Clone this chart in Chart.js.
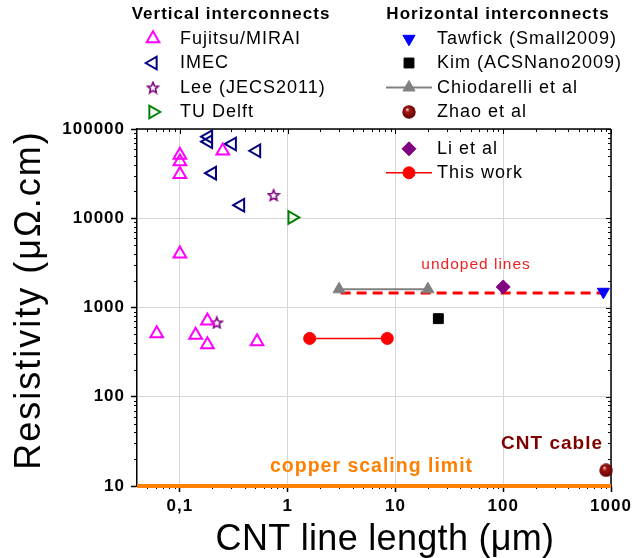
<!DOCTYPE html>
<html><head><meta charset="utf-8">
<script src="https://cdn.jsdelivr.net/npm/chart.js@4.4.1/dist/chart.umd.min.js"></script>
<style>html,body{margin:0;padding:0;background:#fff;overflow:hidden}#wrap{width:641px;height:558px}</style>
</head><body><div id="wrap"><canvas id="c" width="641" height="558"></canvas></div>
<script>
// ---------- data ----------
const xTickValues = [0.1, 1, 10, 100, 1000];
const xTickLabels = ['0,1', '1', '10', '100', '1000'];
const yTickValues = [10, 100, 1000, 10000, 100000];
const yTickLabels = ['10', '100', '1000', '10000', '100000'];

const fujitsuX = [0.1, 0.1, 0.1, 0.25, 0.1, 0.061, 0.14, 0.18, 0.18, 0.52];
const fujitsuY = [51000, 43000, 31000, 57000, 4000, 510, 490, 710, 385, 415];
const imecX = [0.184, 0.184, 0.306, 0.514, 0.2, 0.365];
const imecY = [82000, 72000, 68000, 57000, 32000, 14000];
const leeX = [0.74, 0.22];
const leeY = [18200, 680];
const tuDelftX = [1.1];
const tuDelftY = [10200];
const tawfickX = [850];
const tawfickY = [1500];
const kimX = [25];
const kimY = [750];
const chiodarelliX = [3, 20];
const chiodarelliY = [1600, 1600];
const zhaoX = [900];
const zhaoY = [15];
const liX = [100];
const liY = [1700];
const thisWorkX = [1.6, 8.4];
const thisWorkY = [450, 450];
const undopedX = [3.1, 850];
const undopedY = [1450, 1450];
const copperX = [0.04, 1000];
const copperY = [10, 10];

// annotation anchors (data coordinates)
const undopedLabel = {text: 'undoped lines', x: 56, y: 3000};
const cableLabel = {text: 'CNT cable', x: 284, y: 30};
const copperLabel = {text: 'copper scaling limit', x: 6, y: 16.3};

const FONT = '"Liberation Sans", Arial, sans-serif';
Chart.defaults.font.family = FONT;

const pts = (xs, ys) => xs.map((x, i) => ({x: x, y: ys[i]}));

function makeSphere(d) {
  const c = document.createElement('canvas'); c.width = c.height = d;
  const g = c.getContext('2d'); const r = d / 2;
  const grad = g.createRadialGradient(r * 0.72, r * 0.62, 0.3, r, r, r);
  grad.addColorStop(0, '#f4c8c8'); grad.addColorStop(0.28, '#a51515'); grad.addColorStop(1, '#5c0000');
  g.fillStyle = grad; g.beginPath(); g.arc(r, r, r - 0.3, 0, Math.PI * 2); g.fill();
  return c;
}
function makeStar(d, color, lw) {
  const c = document.createElement('canvas'); c.width = c.height = d;
  const g = c.getContext('2d'); const cx = d / 2, cy = d / 2 + 0.6;
  const R = d / 2 - 1.3, r = R * 0.45;
  g.strokeStyle = color; g.lineWidth = lw; g.lineJoin = 'miter';
  g.beginPath();
  for (let i = 0; i < 10; i++) {
    const a = -Math.PI / 2 + i * Math.PI / 5; const rr = i % 2 ? r : R;
    const px = cx + Math.cos(a) * rr, py = cy + Math.sin(a) * rr;
    if (i === 0) g.moveTo(px, py); else g.lineTo(px, py);
  }
  g.closePath(); g.stroke();
  return c;
}
const sphereImg = makeSphere(14);
const starImg = makeStar(14, '#800080', 1.6);

const T = 'rgba(0,0,0,0)';
const ST = {
  fujitsu: {style: 'triangle', rot: 0, r: 7.3, bg: T, border: '#ff00ff', bw: 2},
  imec: {style: 'triangle', rot: 270, r: 7.3, bg: T, border: '#000080', bw: 2},
  lee: {style: starImg, rot: 0, r: 7, bg: T, border: '#800080', bw: 1},
  tudelft: {style: 'triangle', rot: 90, r: 7.3, bg: T, border: '#008000', bw: 2},
  tawfick: {style: 'triangle', rot: 180, r: 7, bg: '#0000ff', border: '#0000ff', bw: 1},
  kim: {style: 'rect', rot: 0, r: 7, bg: '#000000', border: '#000000', bw: 1},
  chiod: {style: 'triangle', rot: 0, r: 7, bg: '#808080', border: '#808080', bw: 1},
  zhao: {style: sphereImg, rot: 0, r: 7, bg: T, border: T, bw: 0},
  li: {style: 'rectRot', rot: 0, r: 7, bg: '#800080', border: '#800080', bw: 1},
  thiswork: {style: 'circle', rot: 0, r: 6, bg: '#ff0000', border: '#ff0000', bw: 1}
};

function ds(label, data, s, extra) {
  return Object.assign({
    label: label, data: data, clip: false,
    pointStyle: s.style, pointRotation: s.rot, pointRadius: s.r,
    pointBackgroundColor: s.bg, pointBorderColor: s.border, pointBorderWidth: s.bw,
    showLine: false
  }, extra || {});
}

const datasets = [
  ds('Zhao et al', pts(zhaoX, zhaoY), ST.zhao),
  ds('This work', pts(thisWorkX, thisWorkY), ST.thiswork, {showLine: true, borderColor: '#ff0000', borderWidth: 1.5}),
  ds('Li et al', pts(liX, liY), ST.li),
  ds('Tawfick (Small2009)', pts(tawfickX, tawfickY), ST.tawfick),
  ds('Kim (ACSNano2009)', pts(kimX, kimY), ST.kim),
  ds('Chiodarelli et al', pts(chiodarelliX, chiodarelliY), ST.chiod, {showLine: true, borderColor: '#808080', borderWidth: 2}),
  ds('Fujitsu/MIRAI', pts(fujitsuX, fujitsuY), ST.fujitsu),
  ds('IMEC', pts(imecX, imecY), ST.imec),
  ds('Lee (JECS2011)', pts(leeX, leeY), ST.lee),
  ds('TU Delft', pts(tuDelftX, tuDelftY), ST.tudelft),
  {label: 'undoped', data: pts(undopedX, undopedY), showLine: true, pointRadius: 0, borderColor: '#ff0000', borderWidth: 3, borderDash: [10, 6], clip: false},
  {label: 'copper', data: pts(copperX, copperY), showLine: true, pointRadius: 0, borderColor: '#ff8000', borderWidth: 4, clip: false}
];

function drawMarker(ctx, s, x, y) {
  ctx.save();
  if (s.style instanceof HTMLCanvasElement) {
    ctx.drawImage(s.style, x - s.style.width / 2, y - s.style.height / 2);
    ctx.restore(); return;
  }
  ctx.fillStyle = s.bg; ctx.strokeStyle = s.border; ctx.lineWidth = s.bw;
  let rad = (s.rot || 0) * Math.PI / 180; const r = s.r;
  ctx.beginPath();
  if (s.style === 'triangle') {
    for (let i = 0; i < 3; i++) {
      const px = x + Math.sin(rad) * r, py = y - Math.cos(rad) * r;
      if (i === 0) ctx.moveTo(px, py); else ctx.lineTo(px, py);
      rad += 2 * Math.PI / 3;
    }
    ctx.closePath();
  } else if (s.style === 'rect') {
    const h = Math.SQRT1_2 * r; ctx.rect(x - h, y - h, 2 * h, 2 * h);
  } else if (s.style === 'rectRot') {
    ctx.moveTo(x - r, y); ctx.lineTo(x, y - r); ctx.lineTo(x + r, y); ctx.lineTo(x, y + r); ctx.closePath();
  } else {
    ctx.arc(x, y, r, 0, Math.PI * 2);
  }
  ctx.fill(); if (s.bw > 0) ctx.stroke();
  ctx.restore();
}

const decoPlugin = {
  id: 'deco',
  beforeDraw(chart) { chart.ctx.letterSpacing = '1px'; },
  beforeDatasetsDraw(chart) {
    const {ctx, chartArea: a, scales: {x, y}} = chart;
    ctx.save();
    ctx.strokeStyle = '#000'; ctx.lineWidth = 1;
    const seg = (x1, y1, x2, y2) => { ctx.beginPath(); ctx.moveTo(x1, y1); ctx.lineTo(x2, y2); ctx.stroke(); };
    for (let d = -2; d <= 3; d++) for (let k = 2; k <= 9; k++) {
      const v = k * Math.pow(10, d);
      if (v <= 0.0401 || v >= 999) continue;
      const px = Math.round(x.getPixelForValue(v)) + 0.5;
      seg(px, a.bottom, px, a.bottom + 3);
      seg(px, a.top, px, a.top + 3);
    }
    for (let d = 1; d <= 4; d++) for (let k = 2; k <= 9; k++) {
      const v = k * Math.pow(10, d);
      const py = Math.round(y.getPixelForValue(v)) + 0.5;
      seg(a.left - 3, py, a.left, py);
      seg(a.right - 3, py, a.right, py);
    }
    for (const v of xTickValues) { const px = Math.round(x.getPixelForValue(v)) + 0.5; seg(px, a.top, px, a.top + 5); }
    for (const v of yTickValues) { const py = Math.round(y.getPixelForValue(v)) + 0.5; seg(a.right - 5, py, a.right, py); }
    ctx.lineWidth = 1.5;
    seg(a.left - 0.75, a.top, a.right, a.top);
    seg(a.right, a.top, a.right, a.bottom + 0.75);
    ctx.restore();
  },
  afterDraw(chart) {
    const {ctx, scales: {x, y}} = chart;
    ctx.save();
    ctx.letterSpacing = '1px';
    ctx.textBaseline = 'middle';
    // legend titles
    ctx.fillStyle = '#000';
    ctx.font = 'bold 17px ' + FONT; ctx.textAlign = 'center';
    ctx.fillText('Vertical interconnects', 231, 14);
    ctx.fillText('Horizontal interconnects', 498, 14);
    // legend entries
    ctx.font = '18px ' + FONT; ctx.textAlign = 'left';
    const left = [['Fujitsu/MIRAI', ST.fujitsu, 38.5], ['IMEC', ST.imec, 63], ['Lee (JECS2011)', ST.lee, 87.5], ['TU Delft', ST.tudelft, 112]];
    for (const [t, s, yy] of left) { drawMarker(ctx, s, 153, yy); ctx.fillStyle = '#000'; ctx.fillText(t, 180, yy + 0.5); }
    const right = [['Tawfick (Small2009)', ST.tawfick, 38.8, null], ['Kim (ACSNano2009)', ST.kim, 63, null],
      ['Chiodarelli et al', ST.chiod, 87.5, ['#808080', 2]], ['Zhao et al', ST.zhao, 112, null],
      ['Li et al', ST.li, 148.8, null], ['This work', ST.thiswork, 172.8, ['#ff0000', 1.5]]];
    for (const [t, s, yy, ln] of right) {
      if (ln) { ctx.strokeStyle = ln[0]; ctx.lineWidth = ln[1]; ctx.beginPath(); ctx.moveTo(386, yy); ctx.lineTo(432, yy); ctx.stroke(); }
      drawMarker(ctx, s, 409, yy);
      ctx.fillStyle = '#000'; ctx.fillText(t, 437, yy + 0.5);
    }
    // annotations
    ctx.textAlign = 'center';
    ctx.font = '15.5px ' + FONT; ctx.fillStyle = '#f01e1e';
    ctx.fillText(undopedLabel.text, x.getPixelForValue(undopedLabel.x), y.getPixelForValue(undopedLabel.y));
    ctx.font = 'bold 19px ' + FONT; ctx.fillStyle = '#800000';
    ctx.fillText(cableLabel.text, x.getPixelForValue(cableLabel.x), y.getPixelForValue(cableLabel.y));
    ctx.font = 'bold 19.5px ' + FONT; ctx.fillStyle = '#ff8000';
    ctx.fillText(copperLabel.text, x.getPixelForValue(copperLabel.x), y.getPixelForValue(copperLabel.y));
    // axis titles
    ctx.fillStyle = '#000';
    ctx.textBaseline = 'alphabetic';
    ctx.letterSpacing = '0.3px';
    ctx.font = '36px ' + FONT;
    ctx.fillText('CNT line length (μm)', 385, 550);
    ctx.save();
    ctx.translate(40, 300); ctx.rotate(-Math.PI / 2);
    ctx.letterSpacing = '2px';
    ctx.font = '36px ' + FONT;
    ctx.fillText('Resistivity (μΩ.cm)', 0, 0);
    ctx.restore();
    ctx.restore();
  }
};

new Chart(document.getElementById('c'), {
  type: 'scatter',
  data: {datasets: datasets},
  options: {
    responsive: false, animation: false, events: [],
    layout: {padding: {top: 129, right: 30, left: 0, bottom: 0}},
    plugins: {legend: {display: false}, tooltip: {enabled: false}, title: {display: false}},
    scales: {
      x: {
        type: 'logarithmic', min: 0.04, max: 1000,
        afterBuildTicks: s => { s.ticks = xTickValues.map(v => ({value: v})); },
        afterFit: s => { s.height = 72; },
        ticks: {
          callback: v => { const i = xTickValues.indexOf(v); return i >= 0 ? xTickLabels[i] : ''; },
          color: '#000', font: {size: 17, weight: 'bold'}, padding: 4, maxRotation: 0, autoSkip: false
        },
        grid: {color: '#d6d6d6', lineWidth: 1, tickColor: '#000', tickLength: 6, tickWidth: 1.5},
        border: {color: '#000', width: 1.5}
      },
      y: {
        type: 'logarithmic', min: 10, max: 100000,
        afterBuildTicks: s => { s.ticks = yTickValues.map(v => ({value: v})); },
        afterFit: s => { s.width = 137; },
        ticks: {
          callback: v => { const i = yTickValues.indexOf(v); return i >= 0 ? yTickLabels[i] : ''; },
          color: '#000', font: {size: 17, weight: 'bold'}, padding: 6, autoSkip: false
        },
        grid: {color: '#d6d6d6', lineWidth: 1, tickColor: '#000', tickLength: 6, tickWidth: 1.5},
        border: {color: '#000', width: 1.5}
      }
    }
  },
  plugins: [decoPlugin]
});
</script>
</body></html>
